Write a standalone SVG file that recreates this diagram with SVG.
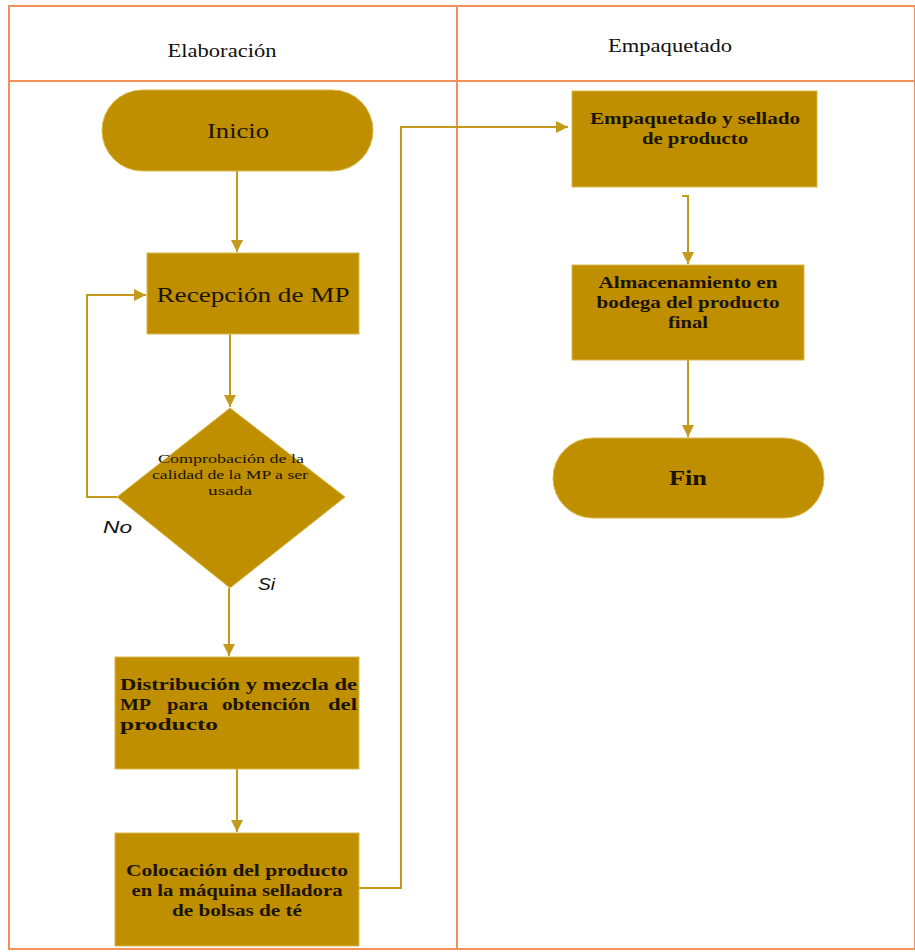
<svg xmlns="http://www.w3.org/2000/svg" width="915" height="952" viewBox="0 0 915 952">
<style>
.grid{stroke:#F2925A;stroke-width:2;fill:none}
.node{fill:#BF8F00;stroke:#D9B84A;stroke-width:1}
.conn{stroke:#C49A1C;stroke-width:2;fill:none}
.t{font-family:"Liberation Serif",serif;fill:#1a1400;text-anchor:middle}
.b{font-weight:bold}
.hd{font-family:"Liberation Serif",serif;font-size:18px;fill:#111;text-anchor:middle}
.lbl{font-family:"Liberation Sans",sans-serif;font-style:italic;font-size:17px;fill:#111}
</style>
<defs>
<marker id="a" viewBox="0 0 12 12" refX="12" refY="6" markerWidth="12" markerHeight="12" orient="auto" markerUnits="userSpaceOnUse">
<path d="M0,0 L12,6 L0,12 z" fill="#C49A1C"/>
</marker>
</defs>
<rect width="915" height="952" fill="#fff"/>
<g id="table">
<rect class="grid" x="9" y="6" width="906" height="943"/>
<line class="grid" x1="9" y1="81" x2="915" y2="81"/>
<line class="grid" x1="457" y1="6" x2="457" y2="949"/>
<text class="hd" x="222" y="57" textLength="109" lengthAdjust="spacingAndGlyphs">Elaboración</text>
<text class="hd" x="670" y="52" textLength="124" lengthAdjust="spacingAndGlyphs">Empaquetado</text>
</g>
<g id="connectors">
<path class="conn" d="M237,171 V252" marker-end="url(#a)"/>
<path class="conn" d="M230,334 V407" marker-end="url(#a)"/>
<path class="conn" d="M117,497 H87 V295 H146" marker-end="url(#a)"/>
<path class="conn" d="M229,588 V656" marker-end="url(#a)"/>
<path class="conn" d="M237,769 V832" marker-end="url(#a)"/>
<path class="conn" d="M359,888 H401 V127 H568" marker-end="url(#a)"/>
<path class="conn" d="M682,196 H688 V264" marker-end="url(#a)"/>
<path class="conn" d="M688,360 V437" marker-end="url(#a)"/>
<text class="lbl" x="103" y="533" textLength="29" lengthAdjust="spacingAndGlyphs">No</text>
<text class="lbl" x="258" y="590" textLength="17" lengthAdjust="spacingAndGlyphs">Si</text>
</g>
<g id="inicio">
<rect class="node" x="102" y="90" width="271" height="81" rx="40.5"/>
<text class="t" x="238" y="138" font-size="22" textLength="62" lengthAdjust="spacingAndGlyphs">Inicio</text>
</g>
<g id="recepcion">
<rect class="node" x="147" y="253" width="212" height="81"/>
<text class="t" x="253" y="302" font-size="22" textLength="193" lengthAdjust="spacingAndGlyphs">Recepción de MP</text>
</g>
<g id="comprobacion">
<polygon class="node" points="230,408 345,497 230,588 117,497"/>
<text class="t" font-size="13"><tspan x="231" y="463" textLength="146" lengthAdjust="spacingAndGlyphs">Comprobación de la</tspan><tspan x="230" y="479" textLength="156" lengthAdjust="spacingAndGlyphs">calidad de la MP a ser</tspan><tspan x="230" y="495" textLength="44" lengthAdjust="spacingAndGlyphs">usada</tspan></text>
</g>
<g id="distribucion">
<rect class="node" x="115" y="657" width="244" height="112"/>
<text class="t b" font-size="16" style="text-anchor:start"><tspan x="120" y="690" textLength="237" lengthAdjust="spacingAndGlyphs">Distribución y mezcla de</tspan><tspan x="120" y="710" textLength="31" lengthAdjust="spacingAndGlyphs">MP</tspan><tspan x="167" y="710" textLength="41" lengthAdjust="spacingAndGlyphs">para</tspan><tspan x="222" y="710" textLength="88" lengthAdjust="spacingAndGlyphs">obtención</tspan><tspan x="328" y="710" textLength="29" lengthAdjust="spacingAndGlyphs">del</tspan><tspan x="120" y="730" textLength="98" lengthAdjust="spacingAndGlyphs">producto</tspan></text>
</g>
<g id="colocacion">
<rect class="node" x="115" y="833" width="244" height="113"/>
<text class="t b" font-size="16"><tspan x="237" y="876" textLength="222" lengthAdjust="spacingAndGlyphs">Colocación del producto</tspan><tspan x="237" y="896" textLength="211" lengthAdjust="spacingAndGlyphs">en la máquina selladora</tspan><tspan x="237" y="916" textLength="130" lengthAdjust="spacingAndGlyphs">de bolsas de té</tspan></text>
</g>
<g id="empaquetado">
<rect class="node" x="572" y="91" width="245" height="96"/>
<text class="t b" font-size="16"><tspan x="695" y="124" textLength="210" lengthAdjust="spacingAndGlyphs">Empaquetado y sellado</tspan><tspan x="695" y="144" textLength="106" lengthAdjust="spacingAndGlyphs">de producto</tspan></text>
</g>
<g id="almacenamiento">
<rect class="node" x="572" y="265" width="232" height="95"/>
<text class="t b" font-size="16"><tspan x="688" y="288" textLength="179" lengthAdjust="spacingAndGlyphs">Almacenamiento en</tspan><tspan x="688" y="308" textLength="183" lengthAdjust="spacingAndGlyphs">bodega del producto</tspan><tspan x="688" y="328" textLength="40" lengthAdjust="spacingAndGlyphs">final</tspan></text>
</g>
<g id="fin">
<rect class="node" x="553" y="438" width="271" height="80" rx="40"/>
<text class="t b" x="688" y="485" font-size="20" textLength="38" lengthAdjust="spacingAndGlyphs">Fin</text>
</g>
</svg>
